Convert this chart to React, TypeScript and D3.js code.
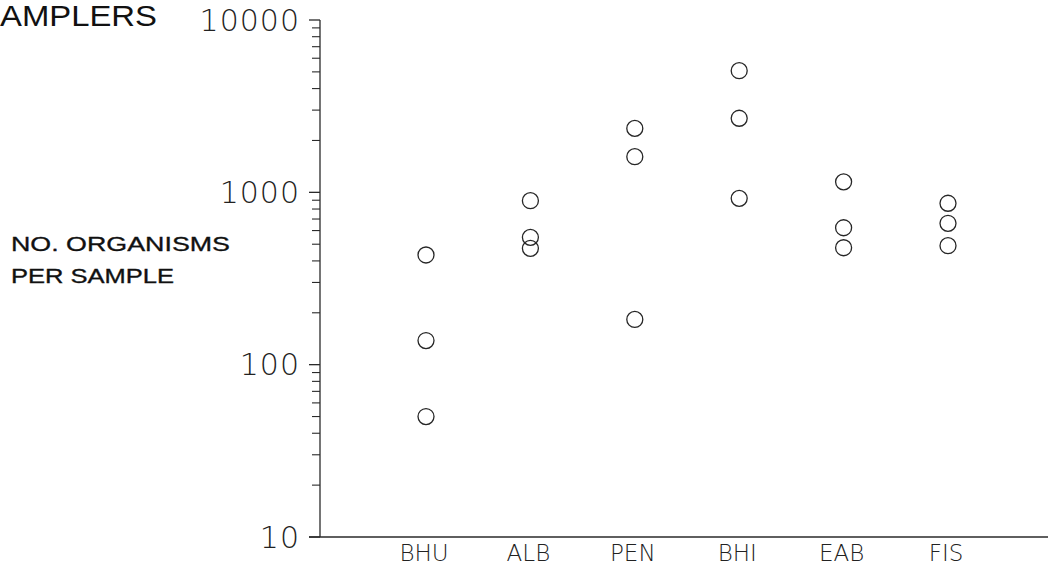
import React from "react";
import * as d3 from "d3";

// Sampler types along the x axis
const categories = ["BHU", "ALB", "PEN", "BHI", "EAB", "FIS"];

// Replicate counts (organisms per sample) for each sampler
const sampleValues: number[][] = [
  [433, 138, 50],
  [894, 548, 473],
  [2350, 1610, 183],
  [5080, 2690, 923],
  [1150, 623, 477],
  [864, 661, 490],
];

const yTickValues = [10, 100, 1000, 10000];
const yTickLabels = ["10", "100", "1000", "10000"];
const titleText = "AMPLERS";
const yTitleLines = ["NO. ORGANISMS", "PER SAMPLE"];

const W = 1048;
const H = 574;
const axisX = 320;
const axisTop = 20;
const axisBottom = 537;

export default function App() {
  const y = d3.scaleLog().domain([10, 10000]).range([axisBottom, axisTop]);
  const x = d3.scalePoint<string>().domain(categories).range([426, 948]);

  // minor ticks 2..9 within every decade
  const minor: number[] = [];
  for (let p = 1; p < 4; p++) {
    for (let m = 2; m <= 9; m++) minor.push(m * Math.pow(10, p));
  }

  const ink = "#2a2a2a";
  const plotFont = "'DejaVu Sans', sans-serif";
  const textFont = "'Liberation Sans', Arial, Helvetica, sans-serif";

  return (
    <svg
      width={W}
      height={H}
      style={{ position: "absolute", left: 0, top: 0, background: "#fff" }}
    >
      {/* title fragment */}
      <text
        x={0}
        y={26}
        fontFamily={textFont}
        fontSize={29}
        fill="#111"
        textLength={157}
        lengthAdjust="spacingAndGlyphs"
      >
        {titleText}
      </text>

      {/* y axis title */}
      {yTitleLines.map((t, i) => (
        <text
          key={t}
          x={11}
          y={251 + i * 32}
          fontFamily={textFont}
          fontSize={21}
          fill="#111"
          stroke="#111"
          strokeWidth={0.35}
          textLength={i === 0 ? 219 : 163}
          lengthAdjust="spacingAndGlyphs"
        >
          {t}
        </text>
      ))}

      {/* y axis */}
      <line x1={axisX} x2={axisX} y1={axisTop} y2={axisBottom} stroke={ink} strokeWidth={1.3} />
      {minor.map((v) => (
        <line key={v} x1={axisX - 8} x2={axisX} y1={y(v)} y2={y(v)} stroke={ink} strokeWidth={1.1} />
      ))}
      {yTickValues.map((v, i) => (
        <g key={v}>
          <line x1={axisX - 11} x2={axisX} y1={y(v)} y2={y(v)} stroke={ink} strokeWidth={1.3} />
          <text
            x={300}
            y={y(v)}
            dy="0.36em"
            textAnchor="end"
            fontFamily={plotFont}
            fontWeight={200}
            fontSize={30}
            letterSpacing={1}
            fill="#222"
          >
            {yTickLabels[i]}
          </text>
        </g>
      ))}

      {/* x axis */}
      <line x1={axisX - 11} x2={W} y1={axisBottom} y2={axisBottom} stroke={ink} strokeWidth={1.6} />
      {categories.map((c) => (
        <text
          key={c}
          x={(x(c) as number) - 2}
          y={561}
          textAnchor="middle"
          fontFamily={plotFont}
          fontWeight={200}
          fontSize={23}
          fill="#222"
        >
          {c}
        </text>
      ))}

      {/* replicate samples */}
      {categories.map((c, ci) =>
        sampleValues[ci].map((v, j) => (
          <circle
            key={c + j}
            cx={x(c) as number}
            cy={y(v)}
            r={8}
            fill="none"
            stroke="#262626"
            strokeWidth={1.3}
          />
        ))
      )}
    </svg>
  );
}
